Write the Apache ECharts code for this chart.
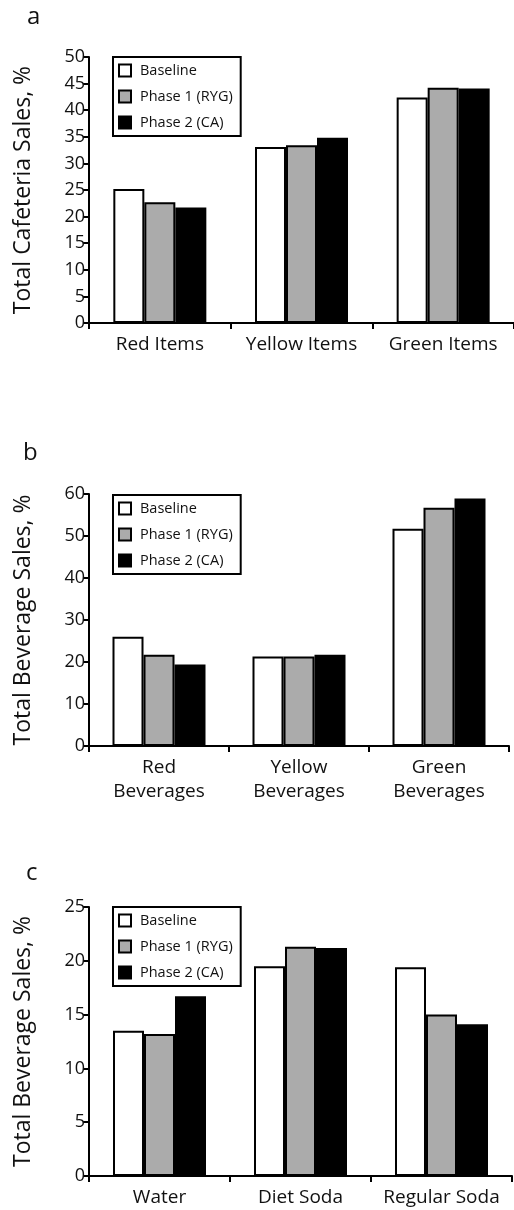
<!DOCTYPE html>
<html>
<head>
<meta charset="utf-8">
<script src="https://cdn.jsdelivr.net/npm/echarts@6/dist/echarts.min.js"></script>
<style>
  html, body { margin: 0; padding: 0; background: #fff; }
  #chart { width: 514px; height: 1210px; }
</style>
</head>
<body>
<div id="chart"></div>
<script>
// Phases shown in every panel
const seriesNames = ['Baseline', 'Phase 1 (RYG)', 'Phase 2 (CA)'];

// Panel a: cafeteria items by traffic-light colour
const catA = ['Red Items', 'Yellow Items', 'Green Items'];
const baselineA = [25.2, 33.1, 42.4];
const phase1A = [22.7, 33.4, 44.2];
const phase2A = [21.7, 34.8, 44.1];

// Panel b: beverages by traffic-light colour
const catB = ['Red\nBeverages', 'Yellow\nBeverages', 'Green\nBeverages'];
const baselineB = [26.0, 21.3, 51.7];
const phase1B = [21.7, 21.3, 56.7];
const phase2B = [19.4, 21.7, 58.9];

// Panel c: beverage types
const catC = ['Water', 'Diet Soda', 'Regular Soda'];
const baselineC = [13.5, 19.5, 19.4];
const phase1C = [13.2, 21.3, 15.0];
const phase2C = [16.7, 21.2, 14.1];

const FONT = '"Open Sans", "Noto Sans", sans-serif';
const fills = ['#ffffff', '#ababab', '#000000'];

const grids = [
  { left: 89, top: 57, width: 431, height: 266 },
  { left: 89, top: 494, width: 420, height: 252 },
  { left: 89, top: 907, width: 423, height: 270 }
];
const yTitles = ['Total Cafeteria Sales, %', 'Total Beverage Sales, %', 'Total Beverage Sales, %'];
const yMax = [50, 60, 25];
const yStep = [5, 10, 5];
const cats = [catA, catB, catC];
const values = [
  [baselineA, phase1A, phase2A],
  [baselineB, phase1B, phase2B],
  [baselineC, phase1C, phase2C]
];

const axisLine = { show: true, lineStyle: { color: '#000', width: 2 } };
const axisTick = { show: true, length: 6, lineStyle: { color: '#000', width: 2 } };

const xAxes = cats.map((c, i) => ({
  type: 'category', gridIndex: i, data: c,
  axisLine, axisTick,
  axisLabel: { color: '#111', fontFamily: FONT, fontSize: 19, margin: 10, lineHeight: 24, interval: 0 }
}));

const yAxes = yMax.map((m, i) => ({
  type: 'value', gridIndex: i, min: 0, max: m, interval: yStep[i],
  axisLine, axisTick, splitLine: { show: false },
  axisLabel: { color: '#111', fontFamily: FONT, fontSize: 18, margin: 4 },
  name: yTitles[i], nameLocation: 'middle', nameGap: 54,
  nameTextStyle: { color: '#111', fontFamily: FONT, fontSize: 23 }
}));

const series = [];
values.forEach((group, gi) => {
  group.forEach((vals, si) => {
    series.push({
      type: 'bar', name: seriesNames[si],
      xAxisIndex: gi, yAxisIndex: gi,
      data: vals, barWidth: 31, barGap: '0%',
      itemStyle: { color: fills[si], borderColor: '#000', borderWidth: 2 },
      emphasis: { disabled: true }
    });
  });
});

const legendTops = [57, 495, 907];
const legends = legendTops.map(t => ({
  data: seriesNames, orient: 'vertical', left: 113, top: t,
  icon: 'rect', itemWidth: 12, itemHeight: 12, itemGap: 11,
  padding: [6, 8, 6, 5],
  borderColor: '#000', borderWidth: 2,
  textStyle: { color: '#111', fontFamily: FONT, fontSize: 14.5, padding: [0, 0, 0, 4] },
  selectedMode: false
}));

const titles = [
  { text: 'a', left: 22, top: 0 },
  { text: 'b', left: 18, top: 436 },
  { text: 'c', left: 21, top: 856 }
].map(t => Object.assign(t, {
  textStyle: { color: '#111', fontFamily: FONT, fontSize: 24, fontWeight: 'normal' }
}));

const chart = echarts.init(document.getElementById('chart'), null, { renderer: 'canvas' });
chart.setOption({
  animation: false,
  backgroundColor: '#fff',
  title: titles,
  legend: legends,
  grid: grids,
  xAxis: xAxes,
  yAxis: yAxes,
  series
});
</script>
</body>
</html>
